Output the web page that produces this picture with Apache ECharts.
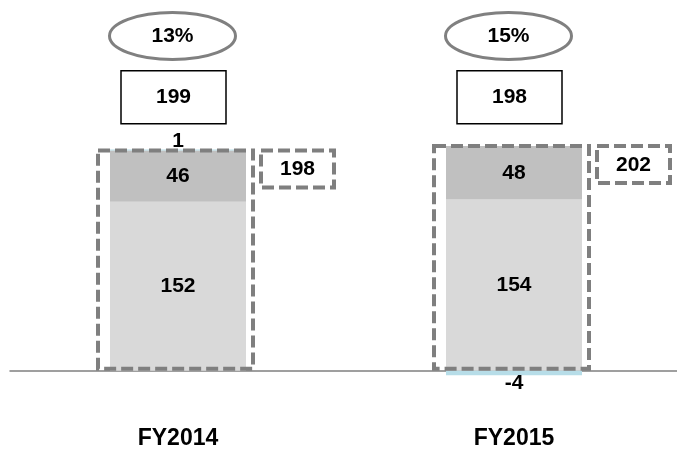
<!DOCTYPE html>
<html>
<head>
<meta charset="utf-8">
<script src="https://cdn.jsdelivr.net/npm/echarts@6/dist/echarts.min.js"></script>
<style>
html,body{margin:0;padding:0;background:#fff;}
#main{width:677px;height:450px;}
</style>
</head>
<body>
<div id="main"></div>
<script>
var categories = ['FY2014', 'FY2015'];
var baseValues = [152, 154];
var upperValues = [46, 48];
var adjustValues = [1, -4];
var subtotals = [198, 202];
var totals = [199, 198];
var percents = [13, 15];

var FONT = 'Liberation Sans, Arial, sans-serif';
var labelStyle = { color: '#000', fontWeight: 'bold', fontSize: 21, fontFamily: FONT };

var chart = echarts.init(document.getElementById('main'));

var annotationData = categories.map(function (c, i) {
  return [i, totals[i], subtotals[i], percents[i]];
});

chart.setOption({
  animation: false,
  backgroundColor: '#fff',
  grid: { left: 10, top: 14.9, width: 672, height: 355.8, containLabel: false, outerBoundsMode: 'none' },
  xAxis: {
    type: 'category',
    data: categories,
    axisTick: { show: false },
    axisLine: { onZero: false, lineStyle: { color: '#808080', width: 1.5 } },
    axisLabel: { margin: 56, color: '#000', fontWeight: 'bold', fontSize: 23, fontFamily: FONT }
  },
  yAxis: {
    type: 'value', min: 0, max: 320, show: false,
    splitLine: { show: false }
  },
  series: [
    {
      type: 'bar', stack: 'a', barWidth: 136, data: baseValues, clip: false,
      itemStyle: { color: '#d9d9d9' },
      label: Object.assign({ show: true, position: 'inside' }, labelStyle)
    },
    {
      type: 'bar', stack: 'a', barWidth: 136, data: upperValues, clip: false,
      itemStyle: { color: '#c0c0c0' },
      label: Object.assign({ show: true, position: 'inside' }, labelStyle)
    },
    {
      type: 'bar', stack: 'a', barWidth: 136, clip: false,
      data: adjustValues.map(function (v) {
        return { value: v, label: { position: v < 0 ? 'bottom' : 'top', distance: -2 } };
      }),
      itemStyle: { color: '#b7dde8' },
      label: Object.assign({ show: true }, labelStyle)
    },
    {
      type: 'custom',
      data: annotationData,
      encode: { x: 0, y: 1 },
      clip: false,
      z: 10,
      renderItem: function (params, api) {
        var i = api.value(0);
        var c0 = api.coord([i, 0]);
        var cs = api.coord([i, api.value(2)]);
        var x = c0[0], y0 = c0[1], ys = cs[1];
        var dash = { fill: 'none', stroke: '#7f7f7f', lineWidth: 4, lineDash: [12, 5] };
        var txt = function (s, cx, cy) {
          return { type: 'text', style: { text: s, x: cx, y: cy, textAlign: 'center', textVerticalAlign: 'middle', fill: '#000', font: 'bold 21px ' + FONT } };
        };
        return {
          type: 'group',
          children: [
            { type: 'rect', shape: { x: x - 80, y: ys, width: 155, height: y0 - ys - 2 }, style: dash },
            { type: 'rect', shape: { x: x + 83, y: ys, width: 73, height: 37 }, style: dash },
            txt(String(api.value(2)), x + 119.5, ys + 19),
            { type: 'rect', shape: { x: x - 57, y: y0 - 300, width: 105, height: 53 }, style: { fill: '#fff', stroke: '#000', lineWidth: 1.5 } },
            txt(String(api.value(1)), x - 4.5, y0 - 273),
            { type: 'ellipse', shape: { cx: x - 5.5, cy: y0 - 334.7, rx: 63, ry: 23.5 }, style: { fill: '#fff', stroke: '#808080', lineWidth: 3 } },
            txt(api.value(3) + '%', x - 5.5, y0 - 334.7)
          ]
        };
      }
    }
  ]
});
</script>
</body>
</html>
